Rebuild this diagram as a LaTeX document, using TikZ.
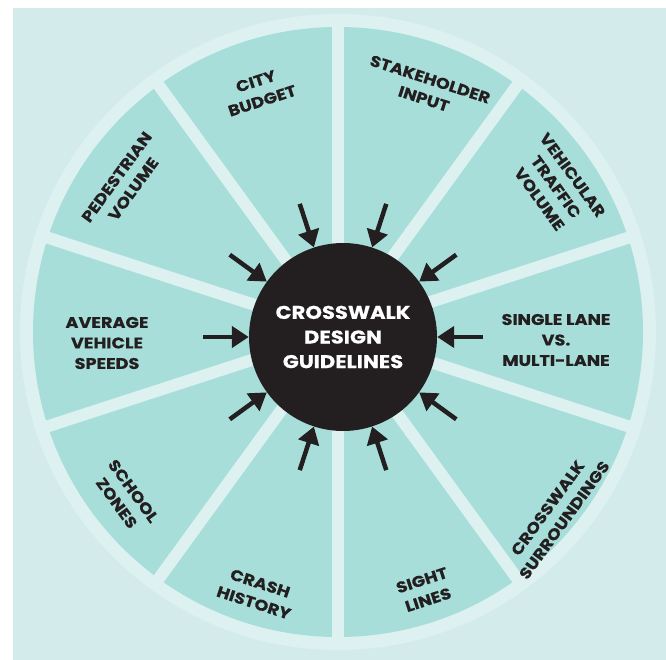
\documentclass[tikz,border=0pt]{standalone}
\usepackage{fontspec}
\setmainfont{Poppins}[BoldFeatures={FakeStretch=1.14,FakeBold=0.3}]
\usetikzlibrary{arrows.meta}
\definecolor{bgc}{HTML}{D3ECEB}
\definecolor{ringc}{HTML}{DCF1F0}
\definecolor{segc}{HTML}{A8DEDA}
\definecolor{darkc}{HTML}{231F20}
\begin{document}
\begin{tikzpicture}[x=1pt,y=1pt,
  lbl/.style={font=\bfseries\fontsize{15.5}{20.5}\selectfont, text=darkc, align=center, inner sep=0pt},
  ctr/.style={font=\bfseries\fontsize{18.5}{24.6}\selectfont, text=white, align=center, inner sep=0pt},
  hubstyle/.style={circle, fill=darkc, minimum size=188pt, inner sep=0pt},
  gapline/.style={draw=ringc, line width=12pt},
  arr/.style={-{Triangle[length=17pt,width=21pt]}, line width=4.5pt, draw=darkc}]
\useasboundingbox (0,0) rectangle (666,-660);
\fill[bgc] (13,-8) rectangle (666,-660);
\coordinate (W) at (338,-332);
\coordinate (C) at (343,-337);
\fill[ringc] (W) circle (318);
\fill[segc] (W) circle (305);
\foreach \a in {18,54,...,342} \draw[gapline] (W) -- ++(\a:307);
\node[hubstyle] (hub) at (C) {};
\node[ctr] (title) at (C) {CROSSWALK\\DESIGN\\GUIDELINES};
\foreach \a in {0,36,...,324} {
  \coordinate (t\a) at ([shift={(C)}]\a:140);
  \draw[arr] (t\a) -- (hub.\a);
}
\node[lbl, rotate=18] (budget) at (259,-91) {CITY\\BUDGET};
\node[lbl, rotate=-18] (stake) at (427,-89) {STAKEHOLDER\\INPUT};
\node[lbl, rotate=-54] (vehic) at (556,-187) {VEHICULAR\\TRAFFIC\\VOLUME};
\node[lbl] (single) at (556,-340) {SINGLE LANE\\VS.\\MULTI-LANE};
\node[lbl, rotate=54] (surr) at (556,-514) {CROSSWALK\\SURROUNDINGS};
\node[lbl, rotate=18] (sight) at (425,-590) {SIGHT\\LINES};
\node[lbl, rotate=-18] (crash) at (257,-593) {CRASH\\HISTORY};
\node[lbl, rotate=-54] (school) at (125,-497) {SCHOOL\\ZONES};
\node[lbl] (avg) at (107,-343) {AVERAGE\\VEHICLE\\SPEEDS};
\node[lbl, rotate=54] (ped) at (125,-183) {PEDESTRIAN\\VOLUME};
\end{tikzpicture}
\end{document}
